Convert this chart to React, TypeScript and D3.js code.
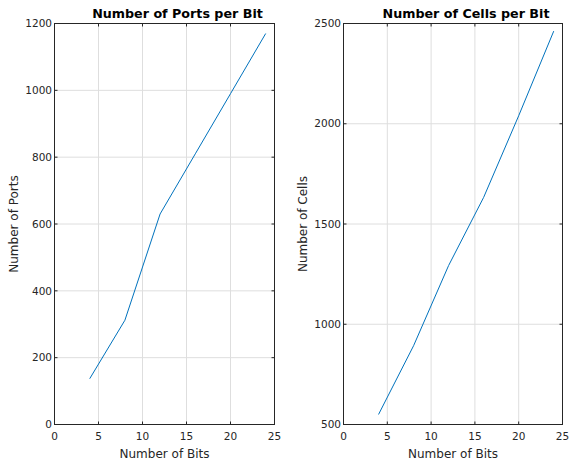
import React from "react";
import * as d3 from "d3";

const bits = [4, 8, 12, 16, 20, 24];
const ports = [137, 312, 630, 810, 990, 1170];
const cells = [550, 893, 1293, 1633, 2040, 2462];

const xTicks = [0, 5, 10, 15, 20, 25];
const portTicks = [0, 200, 400, 600, 800, 1000, 1200];
const cellTicks = [500, 1000, 1500, 2000, 2500];

const width = 570;
const height = 462;
const font = "DejaVu Sans, sans-serif";
const axisColor = "#262626";
const gridColor = "#dedede";
const lineColor = "#0072BD";

type PanelProps = {
  left: number;
  right: number;
  title: string;
  yLabel: string;
  values: number[];
  yDomain: [number, number];
  yTicks: number[];
};

function Panel({ left, right, title, yLabel, values, yDomain, yTicks }: PanelProps) {
  const top = 23.5;
  const bottom = 424.5;
  const x = d3.scaleLinear().domain([0, 25]).range([left, right]);
  const y = d3.scaleLinear().domain(yDomain).range([bottom, top]);
  const line = d3
    .line<number>()
    .x((_, i) => x(bits[i]))
    .y((d) => y(d));
  const tl = 3;
  const cx = (left + right) / 2;

  return (
    <g fontFamily={font}>
      {/* grid */}
      {xTicks.map((t) => (
        <line key={"gx" + t} x1={x(t)} x2={x(t)} y1={top} y2={bottom} stroke={gridColor} strokeWidth={1} />
      ))}
      {yTicks.map((t) => (
        <line key={"gy" + t} x1={left} x2={right} y1={y(t)} y2={y(t)} stroke={gridColor} strokeWidth={1} />
      ))}
      <path d={line(values) ?? ""} fill="none" stroke={lineColor} strokeWidth={1} />
      {/* box */}
      <rect x={left} y={top} width={right - left} height={bottom - top} fill="none" stroke={axisColor} strokeWidth={1} />
      {/* ticks */}
      {xTicks.map((t) => (
        <g key={"tx" + t}>
          <line x1={x(t)} x2={x(t)} y1={bottom} y2={bottom - tl} stroke={axisColor} />
          <line x1={x(t)} x2={x(t)} y1={top} y2={top + tl} stroke={axisColor} />
          <text x={x(t)} y={bottom + 15.5} textAnchor="middle" fontSize={10.5} fill={axisColor}>
            {t}
          </text>
        </g>
      ))}
      {yTicks.map((t) => (
        <g key={"ty" + t}>
          <line x1={left} x2={left + tl} y1={y(t)} y2={y(t)} stroke={axisColor} />
          <line x1={right} x2={right - tl} y1={y(t)} y2={y(t)} stroke={axisColor} />
          <text x={left - 2.5} y={y(t)} dy="0.35em" textAnchor="end" fontSize={10.5} fill={axisColor}>
            {t}
          </text>
        </g>
      ))}
      <text x={cx + 13} y={18.3} textAnchor="middle" fontSize={12.7} fontWeight="bold" fill="#000">
        {title}
      </text>
      <text x={cx} y={457.5} textAnchor="middle" fontSize={12} fill={axisColor}>
        Number of Bits
      </text>
      <text
        transform={`translate(${left - 36.5},${(top + bottom) / 2}) rotate(-90)`}
        textAnchor="middle"
        fontSize={12}
        fill={axisColor}
      >
        {yLabel}
      </text>
    </g>
  );
}

export default function App() {
  return (
    <svg
      width={width}
      height={height}
      style={{ position: "absolute", left: 0, top: 0, background: "#fff" }}
    >
      <rect width={width} height={height} fill="#fff" />
      <Panel
        left={54.5}
        right={274.5}
        title="Number of Ports per Bit"
        yLabel="Number of Ports"
        values={ports}
        yDomain={[0, 1200]}
        yTicks={portTicks}
      />
      <Panel
        left={343.5}
        right={562.5}
        title="Number of Cells per Bit"
        yLabel="Number of Cells"
        values={cells}
        yDomain={[500, 2500]}
        yTicks={cellTicks}
      />
    </svg>
  );
}
